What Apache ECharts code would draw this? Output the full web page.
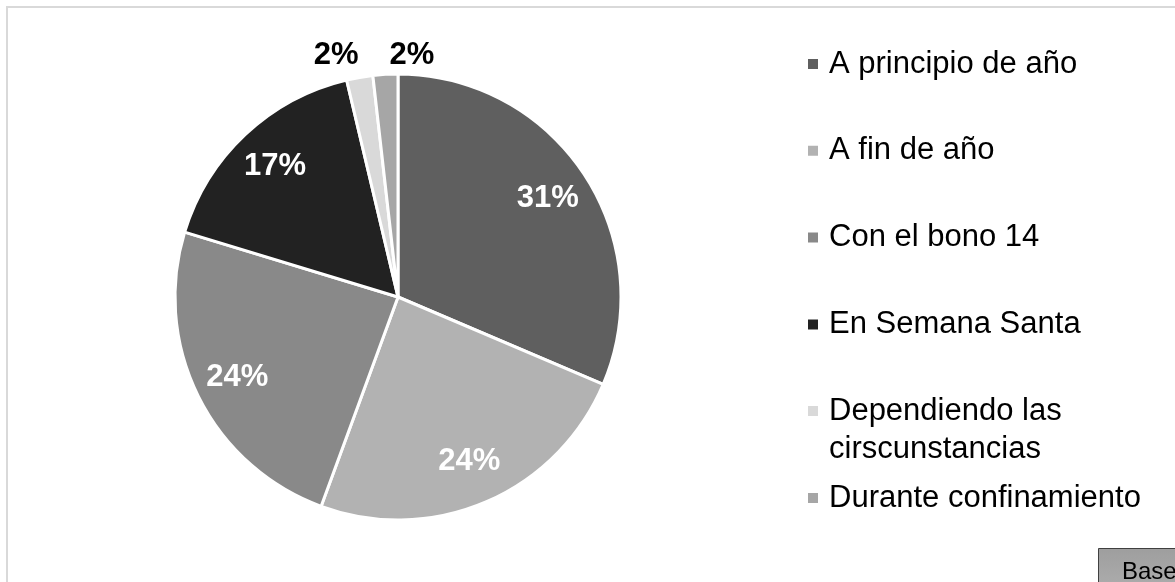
<!DOCTYPE html>
<html>
<head>
<meta charset="utf-8">
<script src="https://cdn.jsdelivr.net/npm/echarts@6/dist/echarts.min.js"></script>
<style>
  html, body { margin: 0; padding: 0; background: #fff; }
  #chart { width: 1175px; height: 582px; }
</style>
</head>
<body>
<div id="chart"></div>
<script>
// Cuándo se planifica el gasto: reparto de respuestas (%)
const categories = [
  'A principio de año',
  'A fin de año',
  'Con el bono 14',
  'En Semana Santa',
  'Dependiendo las cirscunstancias',
  'Durante confinamiento'
];
const shares = [31.4, 24.2, 24.1, 16.6, 1.9, 1.8];
const sliceColors = ['#5f5f5f', '#b2b2b2', '#898989', '#222222', '#d9d9d9', '#a6a6a6'];

const FONT = '"Liberation Sans", Arial, Helvetica, sans-serif';
const CENTER = [398, 297];
const RADIUS = 223;

// the two thin slices carry their labels above the rim, in black
const outerLabelOffsets = { 4: [-31, -65], 5: [24, -62] };

const pieData = categories.map((name, i) => ({
  name: name,
  value: shares[i],
  itemStyle: { color: sliceColors[i] }
}));

const labelData = categories.map((name, i) => {
  const item = { name: name, value: shares[i] };
  if (outerLabelOffsets[i]) {
    item.label = { color: '#000', offset: outerLabelOffsets[i] };
  }
  return item;
});

const legendText = {
  fontFamily: FONT,
  fontSize: 31,
  color: '#000',
  lineHeight: 38,
  padding: [0, 0, 0, 5]
};

const chart = echarts.init(document.getElementById('chart'), null, { renderer: 'canvas' });

chart.setOption({
  backgroundColor: '#ffffff',
  animation: false,
  legend: [
    {
      orient: 'vertical',
      left: 806,
      top: 45,
      padding: 0,
      itemGap: 48.8,
      itemWidth: 12,
      itemHeight: 12,
      icon: 'rect',
      selectedMode: false,
      textStyle: legendText,
      data: categories.slice(0, 4)
    },
    {
      orient: 'vertical',
      left: 806,
      top: 354,
      padding: 0,
      itemGap: 11,
      itemWidth: 12,
      itemHeight: 12,
      icon: 'rect',
      selectedMode: false,
      textStyle: legendText,
      // the long entry wraps; its marker stays level with the first line
      formatter: function (name) {
        return name === categories[4] ? '\nDependiendo las\ncirscunstancias' : name;
      },
      data: categories.slice(4)
    }
  ],
  series: [
    {
      type: 'pie',
      name: 'slices',
      center: CENTER,
      radius: [0, RADIUS],
      startAngle: 90,
      clockwise: true,
      silent: true,
      label: { show: false },
      labelLine: { show: false },
      itemStyle: { borderColor: '#ffffff', borderWidth: 3 },
      emphasis: { disabled: true },
      data: pieData
    },
    {
      // transparent ring that places the percentage labels out toward the rim
      type: 'pie',
      name: 'labels',
      center: CENTER,
      radius: [130, RADIUS],
      startAngle: 90,
      clockwise: true,
      silent: true,
      percentPrecision: 0,
      itemStyle: { color: 'rgba(0,0,0,0)', borderWidth: 0 },
      label: {
        show: true,
        position: 'inside',
        formatter: '{d}%',
        fontFamily: FONT,
        fontSize: 31,
        fontWeight: 'bold',
        color: '#ffffff'
      },
      labelLine: { show: false },
      emphasis: { disabled: true },
      data: labelData
    }
  ],
  graphic: [
    {
      type: 'rect',
      z: -1,
      shape: { x: 7, y: 7, width: 1200, height: 620 },
      style: { fill: 'none', stroke: '#d9d9d9', lineWidth: 2 }
    },
    {
      type: 'rect',
      z: 10,
      shape: { x: 1098.5, y: 548.5, width: 100, height: 60 },
      style: {
        fill: new echarts.graphic.LinearGradient(0, 0, 0, 1, [
          { offset: 0, color: '#9e9e9e' },
          { offset: 1, color: '#b4b4b4' }
        ]),
        stroke: '#404040',
        lineWidth: 1
      }
    },
    {
      type: 'text',
      z: 11,
      x: 1122,
      y: 560,
      style: {
        text: 'Base',
        fontFamily: FONT,
        fontSize: 24,
        fill: '#000',
        verticalAlign: 'top'
      }
    }
  ]
});
</script>
</body>
</html>
